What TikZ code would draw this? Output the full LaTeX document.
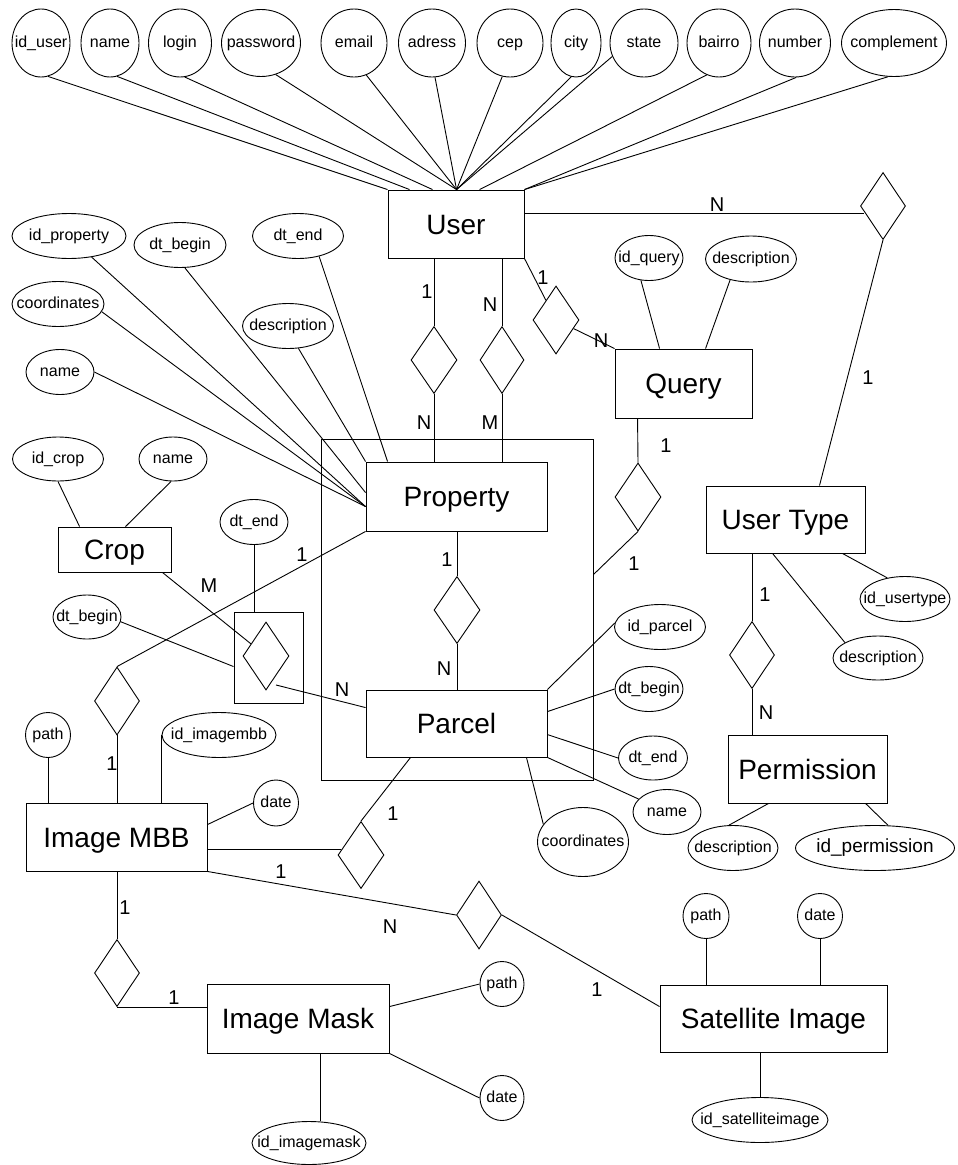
\documentclass[tikz,border=0pt]{standalone}
\usepackage{fontspec}
\setmainfont{Liberation Sans}
\usetikzlibrary{shapes.geometric}
\newcommand\mbx[1]{\makebox[0pt]{#1}}
\tikzset{
  ent/.style={draw, rectangle, inner sep=0pt, text height=22pt, text depth=2pt, font=\fontsize{28}{30}\selectfont},
  att/.style={draw, ellipse, inner sep=0pt, text height=11.5pt, text depth=3.5pt, font=\fontsize{16}{18}\selectfont},
  rel/.style={draw, diamond, inner sep=0pt},
  card/.style={inner sep=0pt, text height=15.5pt, text depth=1.2pt, font=\fontsize{20}{22}\selectfont},
  sz/.style 2 args={minimum width=#1pt, minimum height=#2pt}
}
\begin{document}
\begin{tikzpicture}[x=1pt,y=-1pt,line width=0.9pt]
\useasboundingbox (0,0) rectangle (958,1165);
% entities
\node[ent,sz={136}{68}] (user) at (456,224) {User};
\node[ent,sz={137}{69}] (query) at (683.5,383.5) {Query};
\node[ent,sz={159}{67}] (ut) at (785.5,519.5) {User Type};
\node[draw,rectangle,inner sep=0pt,sz={272}{341}] (agg) at (457,609.5) {};
\node[ent,sz={181}{69}] (prop) at (456.5,496.5) {Property};
\node[ent,sz={181}{67}] (parcel) at (456.5,723.5) {Parcel};
\node[ent,sz={113}{45}] (crop) at (114.5,549.5) {Crop};
\node[ent,sz={159}{68}] (perm) at (807.5,769) {Permission};
\node[ent,sz={181}{68}] (imbb) at (116.5,837) {Image MBB};
\node[ent,sz={227}{67}] (sat) at (773.5,1018.5) {Satellite Image};
\node[ent,sz={182}{69}] (mask) at (298,1018.5) {Image Mask};
\node[draw,rectangle,inner sep=0pt,sz={69}{91}] (cbox) at (268.5,657.5) {};
% relationships
\node[rel,sz={45}{67}] (rut) at (883,206) {};
\node[rel,sz={46}{68}] (rq) at (556,320) {};
\node[rel,sz={46}{67}] (r1) at (434,360) {};
\node[rel,sz={44}{67}] (r2) at (502,360) {};
\node[rel,sz={46}{68}] (rqp) at (638,497) {};
\node[rel,sz={46}{67}] (rpp) at (457,610) {};
\node[rel,sz={46}{68}] (cd) at (266,656) {};
\node[rel,sz={45}{68}] (rpi) at (117,701) {};
\node[rel,sz={45}{67}] (rup) at (752,655) {};
\node[rel,sz={46}{67}] (rmp) at (361,855) {};
\node[rel,sz={45}{68}] (rms) at (479,915) {};
\node[rel,sz={45}{67}] (rmm) at (117,973) {};
% user attributes
\node[att,sz={58}{68}] (idu) at (41,43) {\mbx{id\_user}};
\node[att,sz={58}{68}] (uname) at (110,43) {\mbx{name}};
\node[att,sz={63}{68}] (login) at (180,43) {\mbx{login}};
\node[att,sz={79}{67}] (pwd) at (261,43) {\mbx{password}};
\node[att,sz={66}{68}] (email) at (354,43) {\mbx{email}};
\node[att,sz={67}{68}] (adress) at (432,43) {\mbx{adress}};
\node[att,sz={66}{68}] (cep) at (510,43) {\mbx{cep}};
\node[att,sz={50}{68}] (city) at (576,43) {\mbx{city}};
\node[att,sz={68}{68}] (state) at (644,43) {\mbx{state}};
\node[att,sz={64}{68}] (bairro) at (719,43) {\mbx{bairro}};
\node[att,sz={71}{68}] (number) at (795,43) {\mbx{number}};
\node[att,sz={105}{67}] (compl) at (894,43) {\mbx{complement}};
% property attributes
\node[att,sz={114}{45}] (idprop) at (69,236) {\mbx{id\_property}};
\node[att,sz={92}{45}] (pdtb) at (180,245) {\mbx{dt\_begin}};
\node[att,sz={91}{45}] (pdte) at (298,236) {\mbx{dt\_end}};
\node[att,sz={92}{45}] (pcoordp) at (58,304) {\mbx{coordinates}};
\node[att,sz={91}{45}] (pdescp) at (288,326) {\mbx{description}};
\node[att,sz={68}{45}] (pnamep) at (60,372) {\mbx{name}};
% crop
\node[att,sz={91}{44}] (idcrop) at (58,459) {\mbx{id\_crop}};
\node[att,sz={68}{44}] (cname) at (173,459) {\mbx{name}};
\node[att,sz={68}{45}] (cdend) at (254,522) {\mbx{dt\_end}};
\node[att,sz={68}{44}] (cdbeg) at (87,617) {\mbx{dt\_begin}};
% query
\node[att,sz={68}{45}] (idq) at (649,258) {\mbx{id\_query}};
\node[att,sz={91}{46}] (qdesc) at (751,259) {\mbx{description}};
% user type
\node[att,sz={90}{45}] (idut) at (905,599) {\mbx{id\_usertype}};
\node[att,sz={90}{44}] (utdesc) at (878,658) {\mbx{description}};
% parcel
\node[att,sz={91}{45}] (idparcel) at (660,627) {\mbx{id\_parcel}};
\node[att,sz={68}{45}] (pdtb2) at (649,689) {\mbx{dt\_begin}};
\node[att,sz={69}{44}] (pdte2) at (653,758) {\mbx{dt\_end}};
\node[att,sz={68}{45}] (pname2) at (667,812) {\mbx{name}};
\node[att,sz={91}{69}] (pcoord2) at (583,842) {\mbx{coordinates}};
% permission
\node[att,sz={90}{45}] (pdesc) at (733,848) {\mbx{description}};
\node[att,sz={159}{45},text height=13.5pt,text depth=4pt,font=\fontsize{19}{21}\selectfont] (idperm) at (875,848) {\mbx{id\_permission}};
% image mbb
\node[att,sz={45}{45}] (ipath) at (48,735) {\mbx{path}};
\node[att,sz={114}{45}] (iid) at (219,735) {\mbx{id\_imagembb}};
\node[att,sz={45}{46}] (idate) at (276,803) {\mbx{date}};
% satellite
\node[att,sz={46}{45}] (spath) at (706,916) {\mbx{path}};
\node[att,sz={45}{45}] (sdate) at (820,916) {\mbx{date}};
\node[att,sz={136}{45}] (sid) at (760,1120) {\mbx{id\_satelliteimage}};
% mask
\node[att,sz={44}{45}] (mpath) at (502,984) {\mbx{path}};
\node[att,sz={44}{45}] (mdate) at (502,1098) {\mbx{date}};
\node[att,sz={114}{43}] (mid) at (309,1143) {\mbx{id\_imagemask}};

% user attribute lines
\draw (idu.-78) -- (user.north west);
\draw (uname.-78) -- ([xshift=22pt]user.north west);
\draw (login.-82) -- ([xshift=45pt]user.north west);
\draw (pwd.-65) -- ([xshift=69pt]user.north west);
\draw (email.-69) -- ([xshift=69pt]user.north west);
\draw (adress.-85) -- ([xshift=69pt]user.north west);
\draw (cep.-103) -- ([xshift=69pt]user.north west);
\draw (city.-98) -- ([xshift=69pt]user.north west);
\draw (state.-157) -- ([xshift=69pt]user.north west);
\draw (bairro.-111) -- ([xshift=92pt]user.north west);
\draw (number.-88) -- (user.north east);
\draw (compl.-100) -- (user.north east);
% property attribute lines
\draw (idprop.-43) -- ([yshift=-45pt]prop.north west);
\draw (pcoordp.-10) -- ([yshift=-45pt]prop.north west);
\draw (pnamep.east) -- ([yshift=-45pt]prop.north west);
\draw (pdtb.-78) -- ([yshift=-31pt]prop.north west);
\draw (pdescp.-65) -- (prop.north west);
\draw (pdte.-44) -- ([xshift=22pt]prop.north west);
% user relationships
\draw ([yshift=11pt]user.east) -- ([shift={(4pt,-7pt)}]rut.west);
\draw (rut.south) -- ([xshift=34pt]ut.north);
\draw (r1 |- user.south) -- (r1.north);
\draw (r1.south) -- (r1 |- prop.north);
\draw (r2 |- user.south) -- (r2.north);
\draw (r2.south) -- (r2 |- prop.north);
\draw (user.south east) -- (rq);
\draw (rq) -- (query.north west);
% query
\draw (idq.-110) -- ([xshift=45pt]query.north west);
\draw (qdesc.-135) -- ([xshift=91pt]query.north west);
\draw ([xshift=23pt]query.south west) -- (rqp.north);
\draw (rqp.south) -- ([yshift=-136pt]agg.north east);
% user type
\draw (idut.130) -- ([xshift=-23pt]ut.south east);
\draw (utdesc.155) -- ([xshift=67pt]ut.south west);
\draw (rup |- ut.south) -- (rup.north);
\draw (rup.south) -- (rup |- perm.north);
\draw (pdesc.100) -- ([xshift=41pt]perm.south west);
\draw (idperm.60) -- ([xshift=138pt]perm.south west);
% property - parcel
\draw (rpp |- prop.south) -- (rpp.north);
\draw (rpp.south) -- (rpp |- parcel.north);
\draw (idparcel.175) -- (parcel.north east);
\draw (pdtb2.west) -- ([yshift=-22pt]parcel.north east);
\draw (pdte2.west) -- ([yshift=-45pt]parcel.north east);
\draw (pname2) -- (parcel.south east);
\draw (pcoord2.156) -- ([xshift=-21pt]parcel.south east);
% crop
\draw (idcrop.south) -- ([xshift=22pt]crop.north west);
\draw (cname.-95) -- ([xshift=68pt]crop.north west);
\draw ([xshift=-9pt]crop.south east) -- (cd);
\draw (cdend.south) -- (cdend.south |- cbox.north);
\draw (cdbeg.-8) -- ([yshift=-55pt]cbox.north west);
\draw ([shift={(10pt,-29pt)}]cd.center) -- ([yshift=-18pt]parcel.north west);
% property - image mbb
\draw (rpi.north) -- (prop.south west);
\draw (rpi.south) -- (rpi |- imbb.north);
\draw (ipath.south) -- (ipath.south |- imbb.north);
\draw (iid.west) -- (iid.west |- imbb.north);
\draw (idate.west) -- ([yshift=-22pt]imbb.north east);
% image mbb - parcel
\draw ([yshift=-12pt]imbb.east) -- ([shift={(3pt,6pt)}]rmp.west);
\draw (rmp.north) -- ([xshift=45pt]parcel.south west);
% image mbb - satellite
\draw (imbb.south east) -- (rms.west);
\draw (rms.east) -- ([yshift=-22pt]sat.north west);
\draw (spath.south) -- (spath.south |- sat.north);
\draw (sdate.south) -- (sdate.south |- sat.north);
\draw (sid.north) -- (sid.north |- sat.south);
% image mbb - mask
\draw (rmm |- imbb.south) -- (rmm.north);
\draw (rmm.south) -- (rmm.south -| mask.west);
\draw ([yshift=-23pt]mask.north east) -- (mpath.west);
\draw (mask.south east) -- (mdate.west);
\draw ([xshift=114pt]mask.south west) -- ([xshift=114pt]mask.south west |- mid.north);

% cardinalities
\node[card] (k1) at (717,204) {N};
\node[card] (k2) at (868,377) {1};
\node[card] (k3) at (543,277) {1};
\node[card] (k4) at (601,340) {N};
\node[card] (k5) at (427,291) {1};
\node[card] (k6) at (424,422) {N};
\node[card] (k7) at (490,304) {N};
\node[card] (k8) at (490,422) {M};
\node[card] (k9) at (666,445) {1};
\node[card] (k10) at (634,563) {1};
\node[card] (k11) at (447,559) {1};
\node[card] (k12) at (444,668) {N};
\node[card] (k13) at (209,585) {M};
\node[card] (k14) at (302,554) {1};
\node[card] (k15) at (112,763) {1};
\node[card] (k16) at (342,689) {N};
\node[card] (k17) at (765,594) {1};
\node[card] (k18) at (766,712) {N};
\node[card] (k19) at (393,813) {1};
\node[card] (k20) at (281,871) {1};
\node[card] (k21) at (390,926) {N};
\node[card] (k22) at (597,989) {1};
\node[card] (k23) at (125,907) {1};
\node[card] (k24) at (174,997) {1};
\end{tikzpicture}
\end{document}
